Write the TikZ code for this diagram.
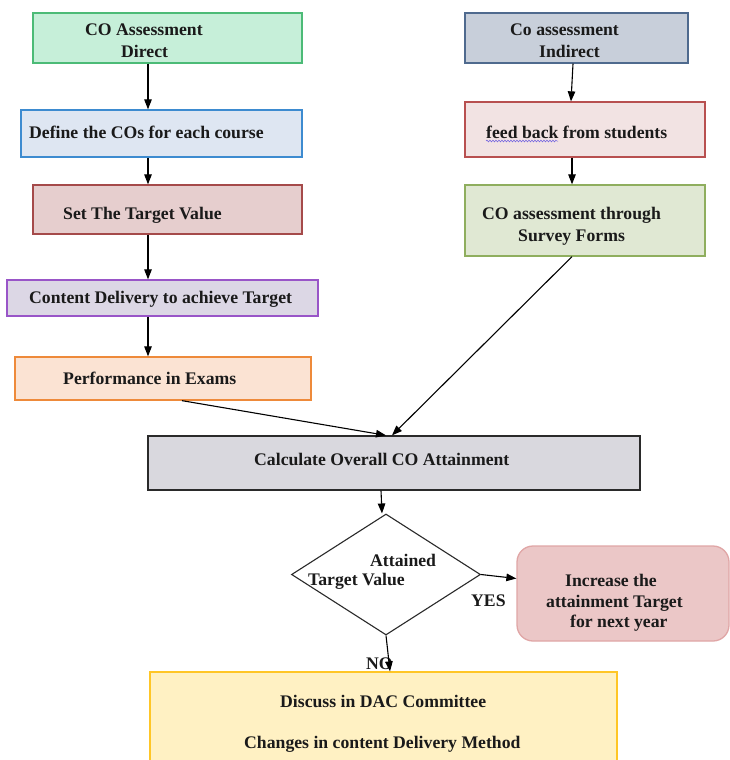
\documentclass[tikz,border=0pt]{standalone}
\usepackage{fontspec}
\setmainfont{Liberation Serif}
\usetikzlibrary{arrows.meta,shapes.geometric,decorations.pathmorphing}

\definecolor{txt}{HTML}{1A1A1A}
\definecolor{dirF}{HTML}{C6EFD9}\definecolor{dirD}{HTML}{4CBB77}
\definecolor{defF}{HTML}{DEE6F2}\definecolor{defD}{HTML}{3D8BD0}
\definecolor{setF}{HTML}{E6CECE}\definecolor{setD}{HTML}{A54A4A}
\definecolor{conF}{HTML}{DCD7E5}\definecolor{conD}{HTML}{9955C8}
\definecolor{perF}{HTML}{FBE3D3}\definecolor{perD}{HTML}{EE8A3A}
\definecolor{indF}{HTML}{C8CFDA}\definecolor{indD}{HTML}{4F6A8E}
\definecolor{feeF}{HTML}{F2E3E3}\definecolor{feeD}{HTML}{B85050}
\definecolor{surF}{HTML}{E0E8D3}\definecolor{surD}{HTML}{8FAE5E}
\definecolor{calF}{HTML}{D9D8DE}\definecolor{calD}{HTML}{2A2A2A}
\definecolor{incF}{HTML}{EBC7C7}\definecolor{incD}{HTML}{E0A6A6}
\definecolor{disF}{HTML}{FFF1C3}\definecolor{disD}{HTML}{FFC626}
\definecolor{spell}{HTML}{6A5AE0}

\tikzset{
  box/.style={draw, rectangle, inner sep=0pt, line width=1.3pt},
  lbl/.style={anchor=base west, inner sep=0pt, text=txt,
              font=\fontsize{17.7}{21}\selectfont\bfseries},
  arr/.style={draw=black, line width=1.1pt,
              -{Triangle[length=10pt,width=7.5pt]}},
}

\begin{document}
\begin{tikzpicture}[x=1pt,y=-1pt]
  \clip (0,0) rectangle (730,760);
  \fill[white] (0,0) rectangle (730,760);

  % direct assessment column
  \node[box, fill=dirF, draw=dirD, minimum width=269pt, minimum height=50pt] (dir) at (167.5,38) {};
  \node[box, fill=defF, draw=defD, minimum width=281pt, minimum height=47pt] (def) at (161.5,133.5) {};
  \node[box, fill=setF, draw=setD, minimum width=269pt, minimum height=49pt] (set) at (167.5,209.5) {};
  \node[box, fill=conF, draw=conD, minimum width=311pt, minimum height=36pt] (con) at (162.5,298) {};
  \node[box, fill=perF, draw=perD, minimum width=296pt, minimum height=43pt] (per) at (163,378.5) {};

  % indirect assessment column
  \node[box, fill=indF, draw=indD, minimum width=223pt, minimum height=50pt] (ind) at (576.5,38) {};
  \node[box, fill=feeF, draw=feeD, minimum width=240pt, minimum height=55pt] (fee) at (585,129.5) {};
  \node[box, fill=surF, draw=surD, minimum width=240pt, minimum height=71pt] (sur) at (585,220.5) {};

  % attainment and decision
  \node[box, fill=calF, draw=calD, minimum width=492pt, minimum height=54pt] (cal) at (394,463) {};
  \node[diamond, draw=calD, fill=white, line width=1.1pt, inner sep=0pt,
        minimum width=189pt, minimum height=121pt] (dia) at (386,574.5) {};
  \node[box, fill=incF, draw=incD, rounded corners=16pt,
        minimum width=212pt, minimum height=95pt] (inc) at (623,593.5) {};
  \node[box, fill=disF, draw=disD, minimum width=467pt, minimum height=130pt] (dis) at (383.5,737) {};

  % labels
  \node[lbl] (tdir1) at (85,36) {CO Assessment};
  \node[lbl] (tdir2) at (121,57) {Direct};
  \node[lbl] (tdef)  at (29,138) {Define the COs for each course};
  \node[lbl] (tset)  at (63,219) {Set The Target Value};
  \node[lbl] (tcon)  at (29,303) {Content Delivery to achieve Target};
  \node[lbl] (tper)  at (63,384) {Performance in Exams};
  \node[lbl] (tind1) at (510,36) {Co assessment};
  \node[lbl] (tind2) at (539,57) {Indirect};
  \node[lbl] (tfee)  at (486,138) {feed back from students};
  \node[lbl] (tsur1) at (482,219) {CO assessment through};
  \node[lbl] (tsur2) at (518,241) {Survey Forms};
  \node[lbl] (tcal)  at (254,465) {Calculate Overall CO Attainment};
  \node[lbl] (tdia1) at (370,566) {Attained};
  \node[lbl] (tdia2) at (308,585) {Target Value};
  \node[lbl] (tinc1) at (565,586) {Increase the};
  \node[lbl] (tinc2) at (546,607) {attainment Target};
  \node[lbl] (tinc3) at (570,627) {for next year};
  \node[lbl] (tdis1) at (280,707) {Discuss in DAC Committee};
  \node[lbl] (tdis2) at (244,748) {Changes in content Delivery Method};
  \node[lbl] (tyes)  at (471,606) {YES};
  \node[lbl] (tno)   at (366,669) {NO};

  % spell-check squiggle under "feed back"
  \draw[spell, line width=0.5pt, decorate,
        decoration={snake, amplitude=0.9pt, segment length=3pt}]
        ([yshift=-3pt]tfee.base west) -- ++(72,0);

  % connectors
  \coordinate (lx) at (148,0);
  \draw[arr] (lx |- dir.south) -- (lx |- def.north);
  \draw[arr] (lx |- def.south) -- (lx |- set.north);
  \draw[arr] (lx |- set.south) -- (lx |- con.north);
  \draw[arr] (lx |- con.south) -- (lx |- per.north);

  \draw[arr] ([xshift=-3.5pt]ind.south) -- ([xshift=-14pt]fee.north);
  \draw[arr] ([xshift=-13pt]fee.south) -- ([xshift=-13pt]sur.north);

  \draw[arr] ([xshift=19pt]per.south) -- ([xshift=-8pt]cal.north);
  \draw[arr] ([xshift=-13pt]sur.south) -- ([xshift=-2pt]cal.north);

  \draw[arr] ([xshift=-13pt]cal.south) -- ([xshift=-4pt]dia.north);
  \draw[arr] (dia.east) -- ([yshift=15pt]inc.west);
  \draw[arr] (dia.south) -- ([xshift=6.5pt]dis.north);
\end{tikzpicture}
\end{document}
